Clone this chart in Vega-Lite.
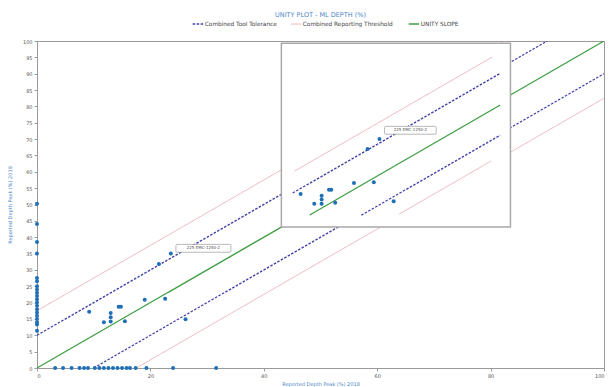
{
  "$schema": "https://vega.github.io/schema/vega-lite/v6.json",
  "width": 567,
  "height": 327,
  "autosize": "none",
  "padding": {"left": 37, "top": 41, "right": 7, "bottom": 19},
  "background": "white",
  "title": {"text": "UNITY PLOT - ML DEPTH (%)", "fontSize": 6.5, "fontWeight": "normal", "color": "#4a86c8", "font": "DejaVu Sans", "anchor": "middle", "offset": 3},
  "config": {
    "view": {"stroke": "#9a9a9a", "strokeWidth": 1},
    "axis": {"grid": false, "domainColor": "#9a9a9a", "tickColor": "#9a9a9a", "tickSize": 3, "labelFontSize": 5, "labelColor": "#555555", "titleFontSize": 5, "titleColor": "#4a86c8", "titleFontWeight": "normal", "labelFont": "DejaVu Sans", "titleFont": "DejaVu Sans", "labelOverlap": false},
    "legend": {"labelFontSize": 5.8, "labelColor": "#444444", "labelFont": "DejaVu Sans", "symbolStrokeWidth": 1.2, "symbolSize": 110, "columnPadding": 12, "padding": 0, "labelOffset": 4}
  },
  "datasets": {
    "lines": [
      {"part": "main", "seg": "m_unity", "series": "UNITY SLOPE", "x": 0, "y": 0},
      {"part": "main", "seg": "m_unity", "series": "UNITY SLOPE", "x": 100, "y": 100},
      {"part": "main", "seg": "m_tol_up", "series": "Combined Tool Tolerance", "x": 0, "y": 10},
      {"part": "main", "seg": "m_tol_up", "series": "Combined Tool Tolerance", "x": 90, "y": 100},
      {"part": "main", "seg": "m_tol_lo", "series": "Combined Tool Tolerance", "x": 10, "y": 0},
      {"part": "main", "seg": "m_tol_lo", "series": "Combined Tool Tolerance", "x": 100, "y": 90},
      {"part": "main", "seg": "m_rep_up", "series": "Combined Reporting Threshold", "x": 0, "y": 17.5},
      {"part": "main", "seg": "m_rep_up", "series": "Combined Reporting Threshold", "x": 82.5, "y": 100},
      {"part": "main", "seg": "m_rep_lo", "series": "Combined Reporting Threshold", "x": 17.5, "y": 0},
      {"part": "main", "seg": "m_rep_lo", "series": "Combined Reporting Threshold", "x": 100, "y": 82.5},
      {"part": "inset", "seg": "i_unity", "series": "UNITY SLOPE", "x": 48.1, "y": 46.8},
      {"part": "inset", "seg": "i_unity", "series": "UNITY SLOPE", "x": 81.7, "y": 80.4},
      {"part": "inset", "seg": "i_tol_up", "series": "Combined Tool Tolerance", "x": 45.1, "y": 53.5},
      {"part": "inset", "seg": "i_tol_up", "series": "Combined Tool Tolerance", "x": 81.7, "y": 90.1},
      {"part": "inset", "seg": "i_tol_lo", "series": "Combined Tool Tolerance", "x": 57.2, "y": 46.7},
      {"part": "inset", "seg": "i_tol_lo", "series": "Combined Tool Tolerance", "x": 81.7, "y": 71.2},
      {"part": "inset", "seg": "i_rep_up", "series": "Combined Reporting Threshold", "x": 45.4, "y": 60.2},
      {"part": "inset", "seg": "i_rep_up", "series": "Combined Reporting Threshold", "x": 80.3, "y": 95.1},
      {"part": "inset", "seg": "i_rep_lo", "series": "Combined Reporting Threshold", "x": 63.9, "y": 47.1},
      {"part": "inset", "seg": "i_rep_lo", "series": "Combined Reporting Threshold", "x": 80.1, "y": 63.3}
    ],
    "points": [
      {"part": "main", "x": 0, "y": 50.2}, {"part": "main", "x": 0, "y": 44}, {"part": "main", "x": 0, "y": 38.5},
      {"part": "main", "x": 0, "y": 35}, {"part": "main", "x": 0, "y": 27.5}, {"part": "main", "x": 0, "y": 26.5},
      {"part": "main", "x": 0, "y": 25}, {"part": "main", "x": 0, "y": 24}, {"part": "main", "x": 0, "y": 23},
      {"part": "main", "x": 0, "y": 22}, {"part": "main", "x": 0, "y": 21}, {"part": "main", "x": 0, "y": 20},
      {"part": "main", "x": 0, "y": 19}, {"part": "main", "x": 0, "y": 18}, {"part": "main", "x": 0, "y": 17},
      {"part": "main", "x": 0, "y": 16}, {"part": "main", "x": 0, "y": 15}, {"part": "main", "x": 0, "y": 14},
      {"part": "main", "x": 0, "y": 13.3}, {"part": "main", "x": 0, "y": 11.4},
      {"part": "main", "x": 3.2, "y": 0}, {"part": "main", "x": 4.6, "y": 0}, {"part": "main", "x": 6.1, "y": 0},
      {"part": "main", "x": 7.5, "y": 0}, {"part": "main", "x": 8.3, "y": 0}, {"part": "main", "x": 9.0, "y": 0},
      {"part": "main", "x": 10.2, "y": 0}, {"part": "main", "x": 11.0, "y": 0}, {"part": "main", "x": 11.8, "y": 0},
      {"part": "main", "x": 12.6, "y": 0}, {"part": "main", "x": 13.4, "y": 0}, {"part": "main", "x": 14.2, "y": 0},
      {"part": "main", "x": 15.0, "y": 0}, {"part": "main", "x": 15.8, "y": 0}, {"part": "main", "x": 16.4, "y": 0},
      {"part": "main", "x": 17.4, "y": 0}, {"part": "main", "x": 19.3, "y": 0}, {"part": "main", "x": 24.0, "y": 0},
      {"part": "main", "x": 31.6, "y": 0},
      {"part": "main", "x": 9.2, "y": 17.2}, {"part": "main", "x": 11.8, "y": 14.0}, {"part": "main", "x": 13.0, "y": 16.8},
      {"part": "main", "x": 13.0, "y": 15.5}, {"part": "main", "x": 13.0, "y": 14.2}, {"part": "main", "x": 14.4, "y": 18.7},
      {"part": "main", "x": 14.8, "y": 18.7}, {"part": "main", "x": 15.5, "y": 14.3}, {"part": "main", "x": 19.0, "y": 20.9},
      {"part": "main", "x": 22.6, "y": 21.2}, {"part": "main", "x": 26.2, "y": 14.9}, {"part": "main", "x": 21.5, "y": 31.8},
      {"part": "main", "x": 23.6, "y": 35.0},
      {"part": "inset", "x": 46.5, "y": 53.2}, {"part": "inset", "x": 48.9, "y": 50.2}, {"part": "inset", "x": 50.2, "y": 52.7},
      {"part": "inset", "x": 50.2, "y": 51.5}, {"part": "inset", "x": 50.2, "y": 50.2}, {"part": "inset", "x": 51.5, "y": 54.5},
      {"part": "inset", "x": 51.9, "y": 54.5}, {"part": "inset", "x": 52.6, "y": 50.5}, {"part": "inset", "x": 55.9, "y": 56.6},
      {"part": "inset", "x": 59.4, "y": 56.8}, {"part": "inset", "x": 62.9, "y": 51.0}, {"part": "inset", "x": 58.3, "y": 67.0},
      {"part": "inset", "x": 60.4, "y": 70.0}
    ],
    "labelbox": [
      {"part": "main", "x": 24.5, "x2": 34.2, "y": 35.4, "y2": 37.8},
      {"part": "inset", "x": 61.3, "x2": 70.4, "y": 71.5, "y2": 73.9}
    ],
    "labeltext": [
      {"part": "main", "x": 29.35, "y": 36.6, "text": "225     EMC-1250-2"},
      {"part": "inset", "x": 65.85, "y": 72.7, "text": "225     EMC-1250-2"}
    ],
    "insetbox": [
      {"x": 43.1, "x2": 83.5, "y": 43.1, "y2": 99.3}
    ]
  },
  "encoding": {
    "x": {"field": "x", "type": "quantitative", "scale": {"domain": [0, 100], "nice": false, "zero": false}, "axis": {"values": [0, 20, 40, 60, 80, 100], "title": "Reported Depth Peak (%) 2018", "titlePadding": 3, "labelPadding": 2}},
    "y": {"field": "y", "type": "quantitative", "scale": {"domain": [0, 100], "nice": false, "zero": false}, "axis": {"values": [0, 5, 10, 15, 20, 25, 30, 35, 40, 45, 50, 55, 60, 65, 70, 75, 80, 85, 90, 95, 100], "title": "Reported Depth Peak (%) 2019", "titlePadding": 10, "labelPadding": 2}}
  },
  "layer": [
    {
      "data": {"name": "lines"},
      "transform": [{"filter": "datum.part == 'main'"}],
      "mark": {"type": "line", "clip": true},
      "encoding": {
        "detail": {"field": "seg"},
        "color": {"field": "series", "type": "nominal", "scale": {"domain": ["Combined Tool Tolerance", "Combined Reporting Threshold", "UNITY SLOPE"], "range": ["#4040a8", "#e6a3ab", "#3f9e44"]},
          "legend": {"title": null, "orient": "none", "legendX": 158, "legendY": -20, "direction": "horizontal", "symbolType": "stroke",
            "encode": {"symbols": {"update": {
              "strokeDash": {"signal": "datum.value == 'Combined Tool Tolerance' ? [2.5, 1.5] : [1, 0]"},
              "strokeWidth": {"signal": "datum.value == 'Combined Reporting Threshold' ? 0.8 : 1.4"}
            }}}}},
        "strokeDash": {"condition": {"test": "datum.series == 'Combined Tool Tolerance'", "value": [2.5, 1.5]}, "value": [1, 0]},
        "strokeWidth": {"condition": {"test": "datum.series == 'Combined Reporting Threshold'", "value": 0.8}, "value": 1.3}
      }
    },
    {
      "data": {"name": "points"},
      "transform": [{"filter": "datum.part == 'main'"}],
      "mark": {"type": "point", "filled": true, "opacity": 1, "size": 16, "color": "#1f6fb8"}
    },
    {
      "data": {"name": "labelbox"},
      "transform": [{"filter": "datum.part == 'main'"}],
      "mark": {"type": "rect", "fill": "white", "stroke": "#8a8a8a", "strokeWidth": 0.6, "cornerRadius": 1},
      "encoding": {"x2": {"field": "x2"}, "y2": {"field": "y2"}}
    },
    {
      "data": {"name": "labeltext"},
      "transform": [{"filter": "datum.part == 'main'"}],
      "mark": {"type": "text", "fontSize": 4, "color": "#555555", "font": "DejaVu Sans", "align": "center", "baseline": "middle"},
      "encoding": {"text": {"field": "text"}}
    },
    {
      "data": {"name": "insetbox"},
      "mark": {"type": "rect", "fill": "white", "stroke": "#a8a8a8", "strokeWidth": 1.5},
      "encoding": {"x2": {"field": "x2"}, "y2": {"field": "y2"}}
    },
    {
      "data": {"name": "lines"},
      "transform": [{"filter": "datum.part == 'inset'"}],
      "mark": {"type": "line"},
      "encoding": {
        "detail": {"field": "seg"},
        "color": {"field": "series", "type": "nominal"},
        "strokeDash": {"condition": {"test": "datum.series == 'Combined Tool Tolerance'", "value": [2.5, 1.5]}, "value": [1, 0]},
        "strokeWidth": {"condition": {"test": "datum.series == 'Combined Reporting Threshold'", "value": 0.8}, "value": 1.3}
      }
    },
    {
      "data": {"name": "points"},
      "transform": [{"filter": "datum.part == 'inset'"}],
      "mark": {"type": "point", "filled": true, "opacity": 1, "size": 16, "color": "#1f6fb8"}
    },
    {
      "data": {"name": "labelbox"},
      "transform": [{"filter": "datum.part == 'inset'"}],
      "mark": {"type": "rect", "fill": "white", "stroke": "#8a8a8a", "strokeWidth": 0.6, "cornerRadius": 1},
      "encoding": {"x2": {"field": "x2"}, "y2": {"field": "y2"}}
    },
    {
      "data": {"name": "labeltext"},
      "transform": [{"filter": "datum.part == 'inset'"}],
      "mark": {"type": "text", "fontSize": 4, "color": "#555555", "font": "DejaVu Sans", "align": "center", "baseline": "middle"},
      "encoding": {"text": {"field": "text"}}
    }
  ]
}
